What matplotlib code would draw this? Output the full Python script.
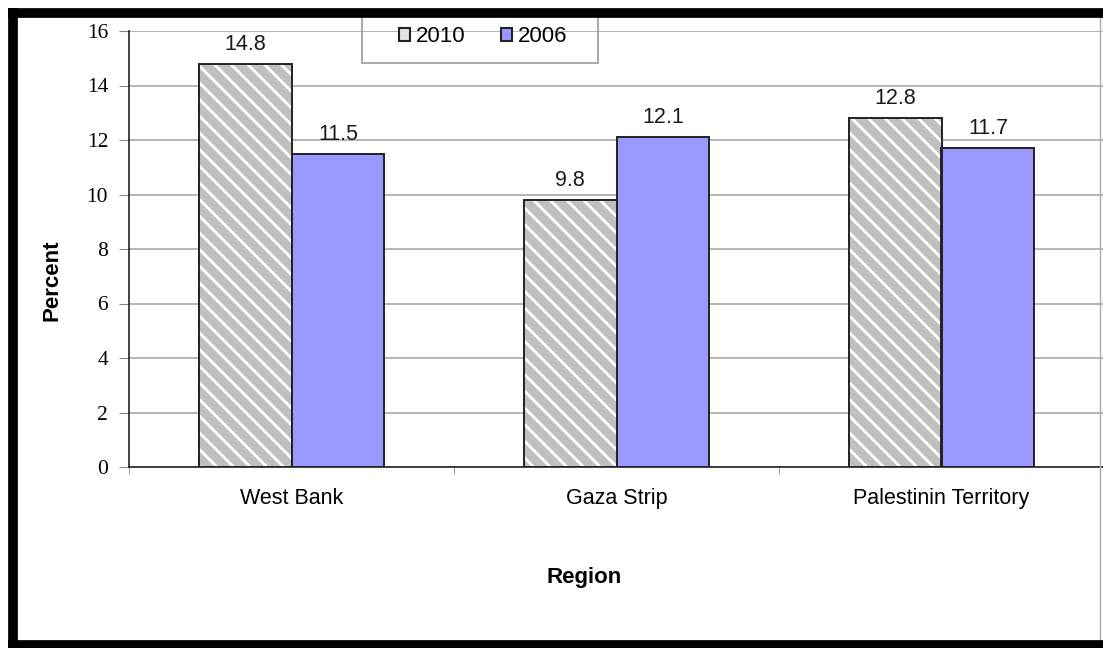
import matplotlib
matplotlib.use("Agg")
import matplotlib.pyplot as plt
import numpy as np
from matplotlib.lines import Line2D
from matplotlib.patches import Patch, Rectangle

regions = ["West Bank", "Gaza Strip", "Palestinin Territory"]
years = ["2010", "2006"]
values_2010 = [14.8, 9.8, 12.8]
values_2006 = [11.5, 12.1, 11.7]

plt.rcParams["font.family"] = ["Liberation Sans", "DejaVu Sans"]
plt.rcParams["hatch.linewidth"] = 2.0

W, H = 1103, 648
fig = plt.figure(figsize=(W / 100, H / 100), dpi=100)
ax = fig.add_axes([129 / W, 1 - 467 / H, 975 / W, 436 / H])

x = np.arange(len(regions))
w = 0.286
blue = "#9999ff"
grey = "#c0c0c0"

# striped 2010 bars: grey fill with white hatch, then a black outline on top
ax.bar(x - w / 2, values_2010, w, color=grey, edgecolor="white", hatch="\\\\", linewidth=0, zorder=3)
ax.bar(x - w / 2, values_2010, w, fill=False, edgecolor="#222222", linewidth=1.4, zorder=4)
ax.bar(x + w / 2, values_2006, w, color=blue, edgecolor="#222222", linewidth=1.4, zorder=3)

for xs, vals in [(x - w / 2, values_2010), (x + w / 2, values_2006)]:
    for xi, v in zip(xs, vals):
        ax.annotate(f"{v}", (xi, v), xytext=(0, 14), textcoords="offset points",
                    ha="center", va="center", fontsize=15.5, color="#1a1a1a")

ax.set_xlim(-0.5, 2.5)
ax.set_ylim(0, 16)
ax.set_yticks(np.arange(0, 17, 2))
ax.set_yticklabels([str(t) for t in range(0, 17, 2)], family="Liberation Serif", fontsize=15.5)
ax.set_xticks(x)
ax.set_xticklabels(regions, fontsize=15.5)
ax.set_xticks([-0.5, 0.5, 1.5], minor=True)
ax.tick_params(axis="x", which="major", length=0, pad=15)
ax.tick_params(axis="x", which="minor", length=5, color="#888888")
ax.tick_params(axis="y", length=7, color="#888888", pad=8)

ax.yaxis.grid(True, color="#a8a8a8", linewidth=1.2, zorder=0)
ax.set_axisbelow(True)
for s in ["top", "right"]:
    ax.spines[s].set_visible(False)
for s in ["left", "bottom"]:
    ax.spines[s].set_color("#222222")
    ax.spines[s].set_linewidth(1.2)

fig.text(52 / W, 1 - 280 / H, "Percent", rotation=90, ha="center", va="center",
         fontsize=16, fontweight="bold")
fig.text(584 / W, 1 - 577 / H, "Region", ha="center", va="center",
         fontsize=16, fontweight="bold")

# legend entries without frame, box drawn separately
handles = [Patch(facecolor="#e4e4e4", edgecolor="#222222", linewidth=1.5),
           Patch(facecolor=blue, edgecolor="#222222", linewidth=1.5)]
fig.legend(handles, years, loc="center", bbox_to_anchor=(483 / W, 1 - 37 / H),
           ncol=2, frameon=False, fontsize=16, handlelength=0.5,
           handleheight=0.5, handletextpad=0.25, columnspacing=1.6,
           borderpad=0, borderaxespad=0)
fig.add_artist(Rectangle((362, H - 63), 236, 50, transform=None, fill=False,
                         edgecolor="#999999", linewidth=1.2, zorder=6))

# thick black page frame
frame = dict(color="black", linewidth=7, transform=None, solid_capstyle="butt", zorder=10)
fig.add_artist(Line2D([12.5, 12.5], [0, H - 8], **frame))
fig.add_artist(Line2D([8, W], [H - 12.5, H - 12.5], **frame))
fig.add_artist(Line2D([8, W], [3, 3], **frame))
fig.add_artist(Line2D([W - 3, W - 3], [6, H - 16], color="#aaaaaa", linewidth=1, transform=None))

fig.savefig("out.png", dpi=100)
